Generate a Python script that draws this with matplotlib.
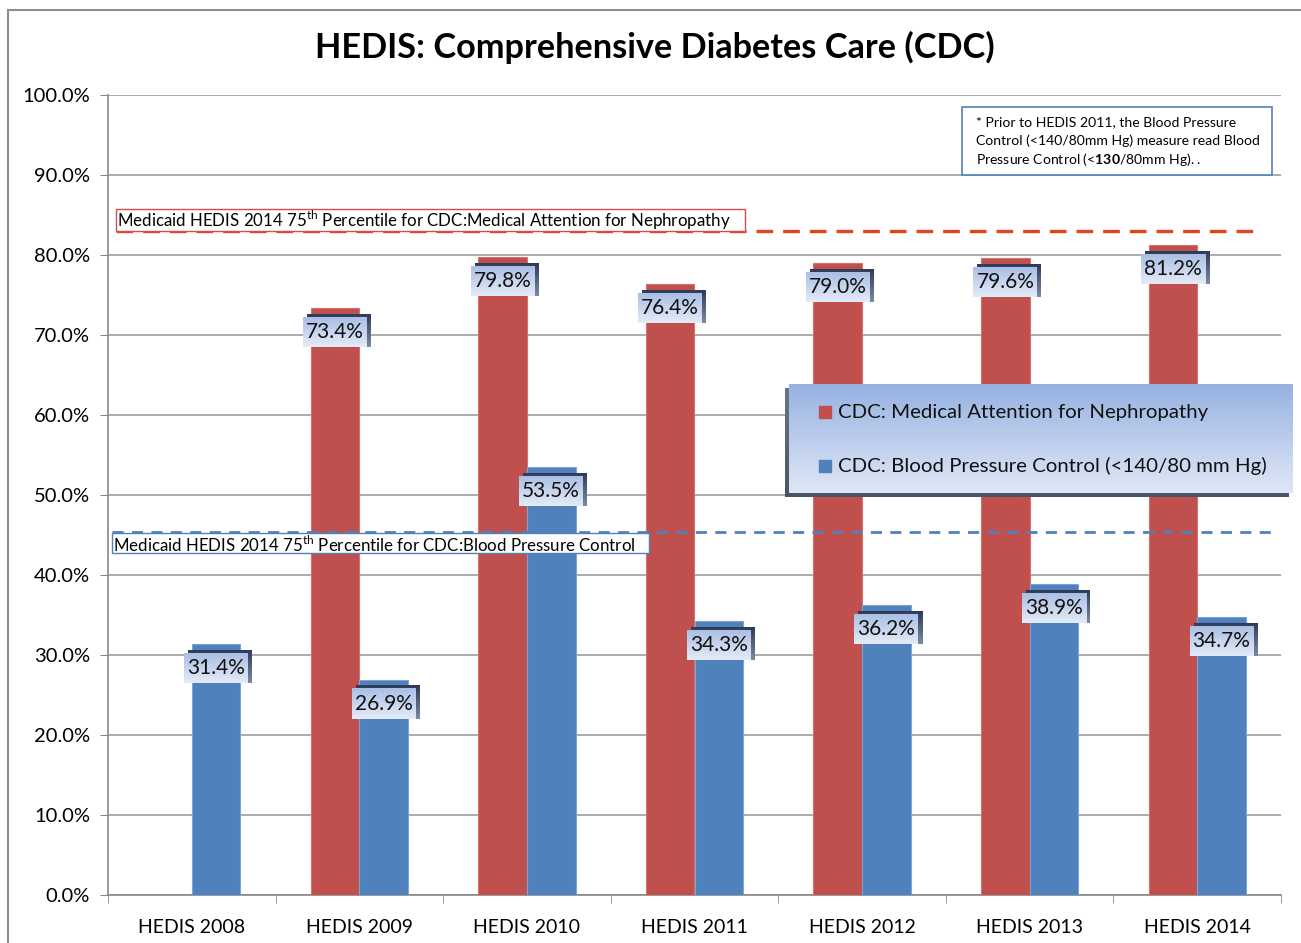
import numpy as np
import matplotlib
matplotlib.use("Agg")
import matplotlib.pyplot as plt
from matplotlib.patches import Rectangle
from matplotlib.lines import Line2D

plt.rcParams['font.family'] = ['Lato', 'DejaVu Sans']
plt.rcParams['mathtext.fontset'] = 'custom'
plt.rcParams['mathtext.rm'] = 'Lato'
plt.rcParams['mathtext.bf'] = 'Lato:bold'

categories = ["HEDIS 2008", "HEDIS 2009", "HEDIS 2010", "HEDIS 2011",
              "HEDIS 2012", "HEDIS 2013", "HEDIS 2014"]
nephropathy = [np.nan, 73.4, 79.8, 76.4, 79.0, 79.6, 81.2]
bp_control = [31.4, 26.9, 53.5, 34.3, 36.2, 38.9, 34.7]
neph_target = 83.0
bp_target = 45.4
series_names = ["CDC: Medical Attention for Nephropathy",
                "CDC: Blood Pressure Control (<140/80 mm Hg)"]
title = "HEDIS: Comprehensive Diabetes Care (CDC)"

RED = "#C0504D"
BLUE = "#4F81BD"

W, H = 1301, 943
fig = plt.figure(figsize=(W / 100, H / 100), dpi=100)
ax = fig.add_axes([108 / W, 48 / H, (1281 - 108) / W, 800 / H])

x = np.arange(len(categories))
bw = 0.29
ax.bar(x - bw / 2, nephropathy, bw, color=RED, edgecolor="#d8706c", linewidth=0.8, zorder=3)
ax.bar(x + bw / 2, bp_control, bw, color=BLUE, edgecolor="#7fa3d4", linewidth=0.8, zorder=3)

ax.set_xlim(-0.5, len(categories) - 0.5)
ax.set_ylim(0, 100)
ax.set_yticks(np.arange(0, 101, 10))
ax.set_yticklabels([f"{v:.1f}%" for v in np.arange(0, 101, 10)], fontsize=14.5)
ax.set_xticks(x)
ax.set_xticklabels(categories, fontsize=14)
ax.set_xticks(np.arange(-0.5, len(categories), 1), minor=True)
ax.tick_params(axis='x', which='major', length=0, pad=17)
ax.tick_params(axis='x', which='minor', length=6, color="#888888", direction='out')
ax.tick_params(axis='y', length=6, color="#888888", pad=7)
ax.grid(axis='y', color="#a6a6a6", linewidth=1.3, zorder=0)
ax.set_axisbelow(True)
for s in ['top', 'right']:
    ax.spines[s].set_visible(False)
for s in ['left', 'bottom']:
    ax.spines[s].set_color("#888888")
    ax.spines[s].set_linewidth(1.2)

px_x = (len(categories)) / (1281 - 108)
px_y = 100 / 800

def vgrad(top, bottom, n=64):
    t = np.array(matplotlib.colors.to_rgb(top))
    b = np.array(matplotlib.colors.to_rgb(bottom))
    f = np.linspace(0, 1, n)[:, None]
    return (t * (1 - f) + b * f)[:, None, :]

box_grad = vgrad("#aabfe4", "#e4ebf7")
shadow_grad = vgrad("#2e3b58", "#7d89a3")

def label(xc, val):
    w = 64 * px_x
    h = 30 * px_y
    yc = val - 24 * px_y
    sx, sy = 4 * px_x, 3 * px_y
    ax.imshow(shadow_grad, extent=[xc - w / 2 + sx, xc + w / 2 + sx, yc - h / 2, yc + h / 2 + sy],
              aspect='auto', zorder=5, interpolation='bilinear')
    ax.imshow(box_grad, extent=[xc - w / 2, xc + w / 2, yc - h / 2, yc + h / 2],
              aspect='auto', zorder=6, interpolation='bilinear')
    ax.text(xc, yc, f"{val:.1f}%", ha='center', va='center', fontsize=15, zorder=7, color="#111111")

for i in range(len(categories)):
    if not np.isnan(nephropathy[i]):
        label(x[i] - bw / 2, nephropathy[i])
    label(x[i] + bw / 2, bp_control[i])

x0 = -0.5
ax.plot([x0 + (117 - 109) * px_x, x0 + (1263 - 109) * px_x], [neph_target] * 2,
        color="#E0461E", linewidth=2.4, dashes=(5, 3), zorder=4)
ax.plot([x0 + (113 - 109) * px_x, x0 + (1273 - 109) * px_x], [bp_target] * 2,
        color="#4F81BD", linewidth=2.0, dashes=(4, 3), zorder=4)

ax.set_xlim(-0.5, len(categories) - 0.5)
ax.set_ylim(0, 100)

def fig_rect(x1, y1, x2, y2, ec, fc="white", lw=1.0, z=10):
    r = Rectangle((x1 / W, 1 - y2 / H), (x2 - x1) / W, (y2 - y1) / H,
                  transform=fig.transFigure, facecolor=fc, edgecolor=ec, linewidth=lw, zorder=z)
    fig.add_artist(r)

fig_rect(116, 209, 745, 231, "#E04848")
fig.text(117 / W, 1 - 220 / H,
         r"Medicaid HEDIS 2014 75$^{\mathrm{th}}$ Percentile for CDC:Medical Attention for Nephropathy",
         fontsize=12.2, ha='left', va='center', zorder=11)
fig_rect(112, 533, 649, 553, "#4F81BD")
fig.text(113 / W, 1 - 545 / H,
         r"Medicaid HEDIS 2014 75$^{\mathrm{th}}$ Percentile for CDC:Blood Pressure Control",
         fontsize=12.2, ha='left', va='center', zorder=11)

fig_rect(962, 107, 1272, 175, "#4F81BD", lw=1.2)
note_lines = ["* Prior to HEDIS 2011, the Blood Pressure",
              "Control (<140/80mm Hg) measure read Blood",
              r"Pressure Control (<$\mathbf{130}$/80mm Hg). ."]
for k, ln in enumerate(note_lines):
    fig.text(976 / W, 1 - (122 + 18.5 * k) / H, ln, fontsize=10.1, ha='left', va='center', zorder=11)

lx1, ly1, lx2, ly2 = 789, 384, 1293, 493
sh = fig.add_axes([(lx1 - 4) / W, 1 - (ly2 + 4) / H, (lx2 - lx1) / W, (ly2 - ly1) / H], zorder=20)
sh.imshow(vgrad("#6a7588", "#4a5465"), aspect='auto', extent=[0, 1, 0, 1])
sh.axis('off')
lg = fig.add_axes([lx1 / W, 1 - ly2 / H, (lx2 - lx1) / W, (ly2 - ly1) / H], zorder=21)
lg.imshow(vgrad("#97b2e1", "#dfe7f6"), aspect='auto', extent=[0, 1, 0, 1], interpolation='bilinear')
lg.set_xlim(0, 1)
lg.set_ylim(0, 1)
lg.axis('off')
for yy, col, name in [(412, RED, series_names[0]), (466, BLUE, series_names[1])]:
    fy = 1 - (yy - ly1) / (ly2 - ly1)
    lg.add_patch(Rectangle(((819 - lx1) / (lx2 - lx1), fy - 6 / (ly2 - ly1)),
                           12 / (lx2 - lx1), 12 / (ly2 - ly1), color=col))
    lg.text((838 - lx1) / (lx2 - lx1), fy, name, fontsize=14.7, va='center', ha='left', color="#111111")

fig.text(655 / W, 1 - 47 / H, title, fontsize=24.7, fontweight='bold', ha='center', va='center')

fig.add_artist(Line2D([8 / W, 8 / W], [0, 1 - 10 / H], transform=fig.transFigure, color="#8c8c8c", lw=1.5))
fig.add_artist(Line2D([8 / W, 1], [1 - 10 / H, 1 - 10 / H], transform=fig.transFigure, color="#8c8c8c", lw=1.5))

fig.savefig("out.png", dpi=100)
